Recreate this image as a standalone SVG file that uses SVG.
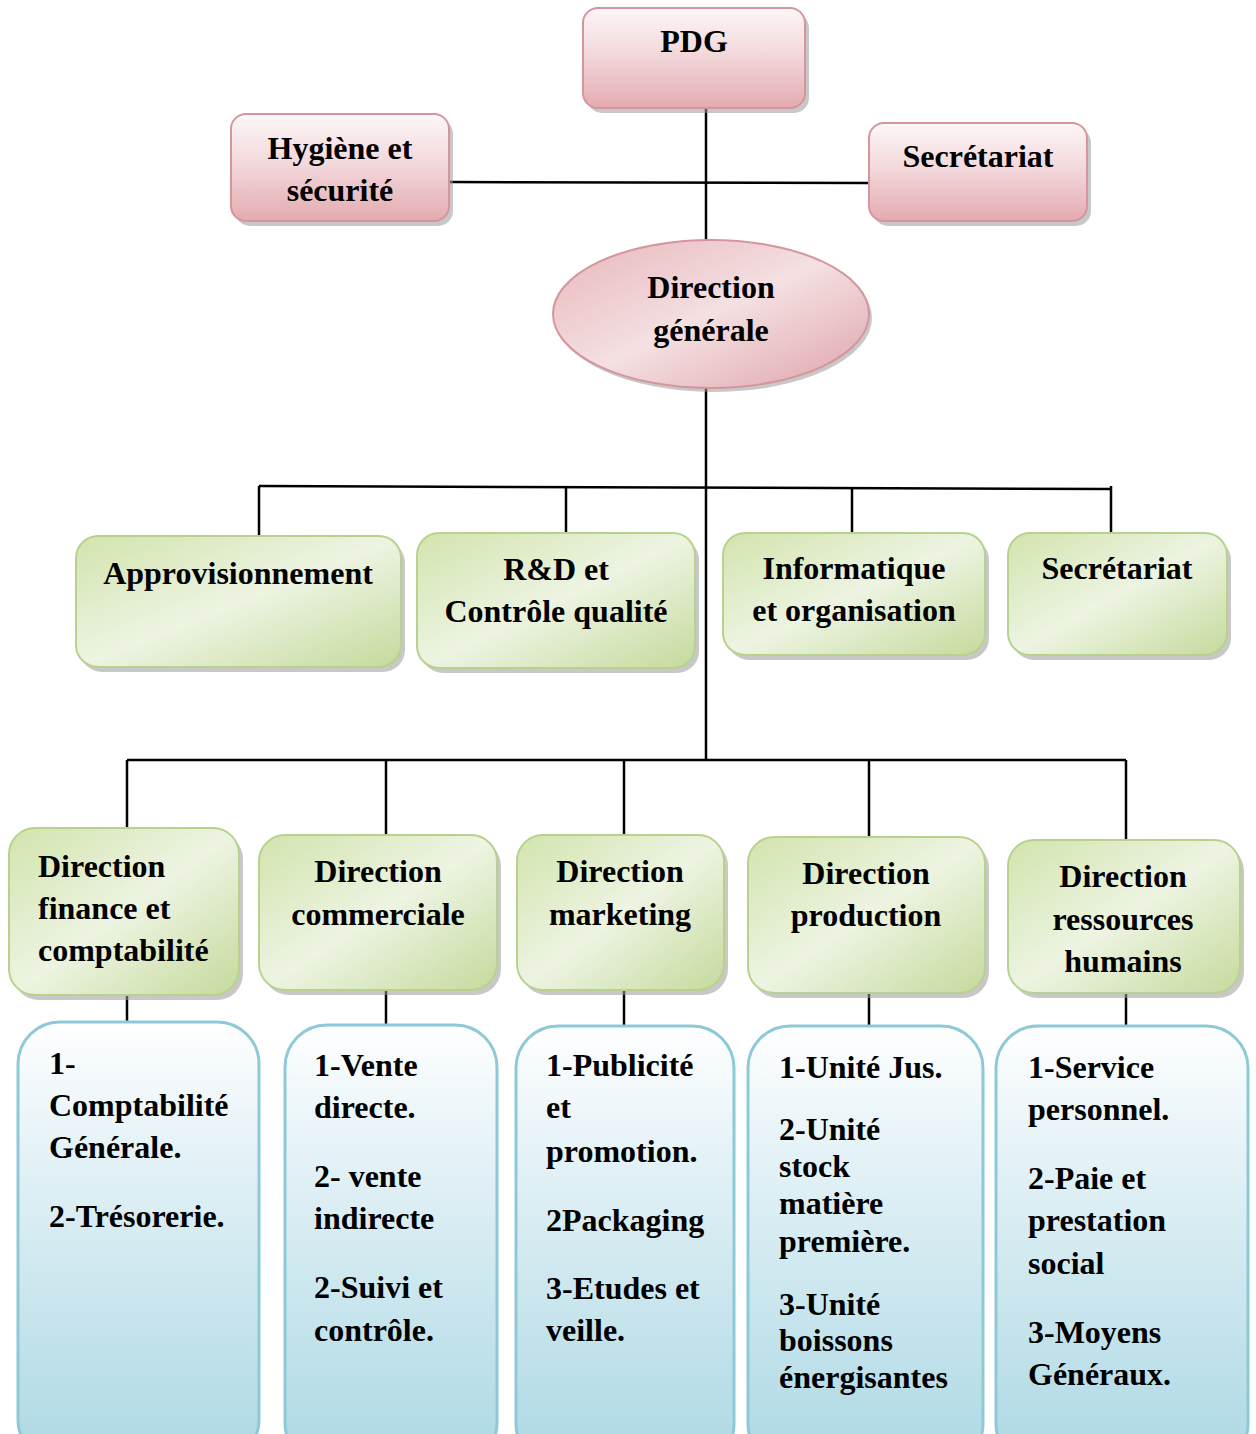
<svg xmlns="http://www.w3.org/2000/svg" width="1256" height="1434" viewBox="0 0 1256 1434">
<defs>
<linearGradient id="pink" x1="0" y1="0" x2="0" y2="1">
<stop offset="0" stop-color="#fdf6f7"/><stop offset="0.45" stop-color="#f3d9dc"/><stop offset="1" stop-color="#e3abb0"/>
</linearGradient>
<linearGradient id="pinkEl" x1="0" y1="0" x2="1" y2="1">
<stop offset="0" stop-color="#e7b6ba"/><stop offset="0.5" stop-color="#f4e0e2"/><stop offset="1" stop-color="#dfa3a9"/>
</linearGradient>
<linearGradient id="green" x1="0" y1="0" x2="1" y2="1">
<stop offset="0" stop-color="#d2e4ad"/><stop offset="0.5" stop-color="#edf4e2"/><stop offset="1" stop-color="#c5da9c"/>
</linearGradient>
<linearGradient id="blue" x1="0" y1="0" x2="0" y2="1">
<stop offset="0" stop-color="#ffffff"/><stop offset="0.25" stop-color="#e8f4f8"/><stop offset="1" stop-color="#acd8e4"/>
</linearGradient>
</defs>
<style>
text{font-family:"Liberation Serif","Times New Roman",serif;font-weight:bold;font-size:32px;fill:#000}
.c{text-anchor:middle}
.sh{fill:#9a9a9a;opacity:0.55}
.pk{fill:url(#pink);stroke:#d4969c;stroke-width:2}
.gr{fill:url(#green);stroke:#b8d28e;stroke-width:2}
.bl{fill:url(#blue);stroke:#8ec9d8;stroke-width:3}
.ln{stroke:#000;stroke-width:2.5;fill:none}
</style>

<g id="connectors">
<line class="ln" x1="706" y1="108" x2="706" y2="240"/>
<line class="ln" x1="449" y1="182" x2="869" y2="183"/>
<line class="ln" x1="706" y1="388" x2="706" y2="760"/>
<line class="ln" x1="259" y1="486" x2="1111" y2="489"/>
<line class="ln" x1="259" y1="486" x2="259" y2="536"/>
<line class="ln" x1="566" y1="487" x2="566" y2="533"/>
<line class="ln" x1="852" y1="488" x2="852" y2="533"/>
<line class="ln" x1="1111" y1="486" x2="1111" y2="535"/>
<line class="ln" x1="127" y1="760" x2="1126" y2="760"/>
<line class="ln" x1="127" y1="760" x2="127" y2="828"/>
<line class="ln" x1="386" y1="760" x2="386" y2="835"/>
<line class="ln" x1="624" y1="760" x2="624" y2="835"/>
<line class="ln" x1="869" y1="760" x2="869" y2="837"/>
<line class="ln" x1="1126" y1="760" x2="1126" y2="840"/>
<line class="ln" x1="127" y1="995" x2="127" y2="1022"/>
<line class="ln" x1="386" y1="990" x2="386" y2="1025"/>
<line class="ln" x1="624" y1="990" x2="624" y2="1026"/>
<line class="ln" x1="869" y1="993" x2="869" y2="1026"/>
<line class="ln" x1="1126" y1="993" x2="1126" y2="1026"/>
</g>

<g id="pdg">
<rect class="sh" x="587" y="13" width="222" height="100" rx="15"/>
<rect class="pk" x="583" y="8" width="222" height="100" rx="15"/>
<text class="c" x="694" y="52">PDG</text>
</g>
<g id="hygiene">
<rect class="sh" x="235" y="119" width="218" height="107" rx="15"/>
<rect class="pk" x="231" y="114" width="218" height="107" rx="15"/>
<text class="c" x="340" y="159">Hygiène et</text>
<text class="c" x="340" y="201">sécurité</text>
</g>
<g id="secretariat-top">
<rect class="sh" x="873" y="128" width="218" height="98" rx="15"/>
<rect class="pk" x="869" y="123" width="218" height="98" rx="15"/>
<text class="c" x="978" y="167">Secrétariat</text>
</g>
<g id="direction-generale">
<ellipse class="sh" cx="714" cy="318" rx="158" ry="74"/>
<ellipse cx="711" cy="314" rx="158" ry="74" fill="url(#pinkEl)" stroke="#d4969c" stroke-width="2"/>
<text class="c" x="711" y="298">Direction</text>
<text class="c" x="711" y="341">générale</text>
</g>

<g id="approvisionnement">
<rect class="sh" x="80" y="541" width="325" height="131" rx="22"/>
<rect class="gr" x="76" y="536" width="325" height="131" rx="22"/>
<text class="c" x="238" y="584">Approvisionnement</text>
</g>
<g id="rd">
<rect class="sh" x="421" y="538" width="278" height="135" rx="22"/>
<rect class="gr" x="417" y="533" width="278" height="135" rx="22"/>
<text class="c" x="556" y="580">R&amp;D et</text>
<text class="c" x="556" y="622">Contrôle qualité</text>
</g>
<g id="informatique">
<rect class="sh" x="727" y="538" width="262" height="122" rx="22"/>
<rect class="gr" x="723" y="533" width="262" height="122" rx="22"/>
<text class="c" x="854" y="579">Informatique</text>
<text class="c" x="854" y="621">et organisation</text>
</g>
<g id="secretariat">
<rect class="sh" x="1012" y="538" width="219" height="122" rx="22"/>
<rect class="gr" x="1008" y="533" width="219" height="122" rx="22"/>
<text class="c" x="1117" y="579">Secrétariat</text>
</g>

<g id="dir-finance">
<rect class="sh" x="13" y="833" width="230" height="167" rx="26"/>
<rect class="gr" x="9" y="828" width="230" height="167" rx="26"/>
<text x="38" y="877">Direction</text>
<text x="38" y="919">finance et</text>
<text x="38" y="961">comptabilité</text>
</g>
<g id="dir-commerciale">
<rect class="sh" x="263" y="840" width="238" height="155" rx="26"/>
<rect class="gr" x="259" y="835" width="238" height="155" rx="26"/>
<text class="c" x="378" y="882">Direction</text>
<text class="c" x="378" y="925">commerciale</text>
</g>
<g id="dir-marketing">
<rect class="sh" x="521" y="840" width="207" height="155" rx="26"/>
<rect class="gr" x="517" y="835" width="207" height="155" rx="26"/>
<text class="c" x="620" y="882">Direction</text>
<text class="c" x="620" y="925">marketing</text>
</g>
<g id="dir-production">
<rect class="sh" x="752" y="842" width="237" height="156" rx="26"/>
<rect class="gr" x="748" y="837" width="237" height="156" rx="26"/>
<text class="c" x="866" y="884">Direction</text>
<text class="c" x="866" y="926">production</text>
</g>
<g id="dir-rh">
<rect class="sh" x="1012" y="845" width="232" height="153" rx="26"/>
<rect class="gr" x="1008" y="840" width="232" height="153" rx="26"/>
<text class="c" x="1123" y="887">Direction</text>
<text class="c" x="1123" y="930">ressources</text>
<text class="c" x="1123" y="972">humains</text>
</g>

<g id="liste-finance">
<rect class="bl" x="18" y="1022" width="241" height="440" rx="42"/>
<text x="49" y="1074">1-</text>
<text x="49" y="1116">Comptabilité</text>
<text x="49" y="1158">Générale.</text>
<text x="49" y="1227">2-Trésorerie.</text>
</g>
<g id="liste-commerciale">
<rect class="bl" x="285" y="1025" width="212" height="440" rx="42"/>
<text x="314" y="1076">1-Vente</text>
<text x="314" y="1118">directe.</text>
<text x="314" y="1187">2- vente</text>
<text x="314" y="1229">indirecte</text>
<text x="314" y="1298">2-Suivi et</text>
<text x="314" y="1341">contrôle.</text>
</g>
<g id="liste-marketing">
<rect class="bl" x="516" y="1026" width="218" height="440" rx="42"/>
<text x="546" y="1076">1-Publicité</text>
<text x="546" y="1118">et</text>
<text x="546" y="1162">promotion.</text>
<text x="546" y="1231">2Packaging</text>
<text x="546" y="1299">3-Etudes et</text>
<text x="546" y="1341">veille.</text>
</g>
<g id="liste-production">
<rect class="bl" x="748" y="1026" width="235" height="440" rx="42"/>
<text x="779" y="1078">1-Unité Jus.</text>
<text x="779" y="1140">2-Unité</text>
<text x="779" y="1177">stock</text>
<text x="779" y="1214">matière</text>
<text x="779" y="1252">première.</text>
<text x="779" y="1315">3-Unité</text>
<text x="779" y="1351">boissons</text>
<text x="779" y="1388">énergisantes</text>
</g>
<g id="liste-rh">
<rect class="bl" x="996" y="1026" width="252" height="440" rx="42"/>
<text x="1028" y="1078">1-Service</text>
<text x="1028" y="1120">personnel.</text>
<text x="1028" y="1189">2-Paie et</text>
<text x="1028" y="1231">prestation</text>
<text x="1028" y="1274">social</text>
<text x="1028" y="1343">3-Moyens</text>
<text x="1028" y="1385">Généraux.</text>
</g>
</svg>
